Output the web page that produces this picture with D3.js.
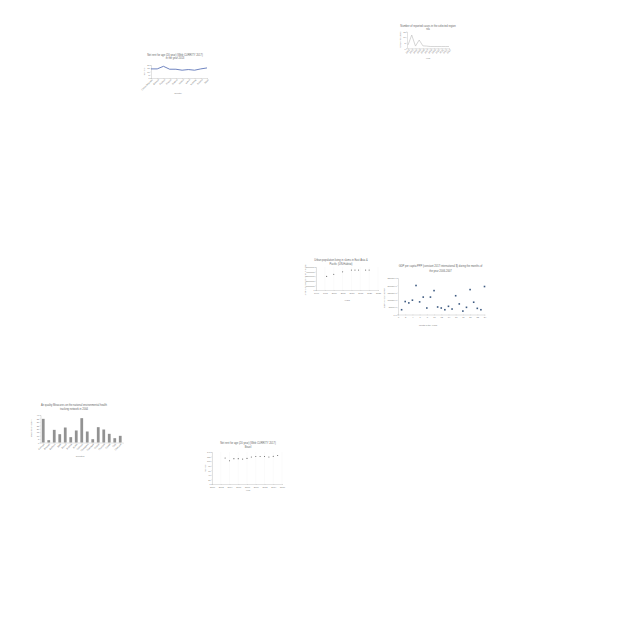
<!DOCTYPE html>
<html><head><meta charset="utf-8">
<script src="https://cdn.jsdelivr.net/npm/d3@7"></script>
<style>body{margin:0;background:#fff}svg{display:block}text{font-family:"Liberation Sans",Arial,sans-serif}</style>
</head><body><svg id="c" width="640" height="640"></svg>
<script>
// ---- Chart 1: line ----
const c1Countries = ["Czech Republic","Estonia","Finland","France","Greece","Ireland","Latvia","Norway","Poland","Spain"];
const c1Values = [14, 14, 18, 13.5, 13.5, 12, 13, 12, 14, 15.5];
const c1YTicks = [0, 5, 10, 15, 20];
// ---- Chart 2: line ----
const c2Years = ["2002","2003","2004","2005","2006","2007","2008","2009","2010","2011","2012","2013"];
const c2Values = [3, 12, 2, 7.5, 2.2, 2, 1.6, 1.6, 1.6, 1.6, 1.6, 1.6];
const c2YTicks = [0, 5, 10, 15];
// ---- Chart 3: scatter ----
const c3Years = [1996, 2000, 2005, 2010, 2012, 2014, 2018, 2020];
const c3Values = [2950000, 3400000, 3960000, 4340000, 4340000, 4340000, 4340000, 4340000];
const c3YTicks = [0, 1000000, 2000000, 3000000, 4000000, 5000000];
const c3XTicks = [1990, 1995, 2000, 2005, 2010, 2015, 2020, 2025];
// ---- Chart 4: scatter ----
const c4Months = [1,2,3,4,5,6,7,8,9,10,11,12,13,14,15,16,17,18,19,20,21,22,23,24];
const c4Values = [32700, 88800, 79400, 98100, 198600, 86400, 119200, 44400, 119200, 163600, 51400, 44400, 32700, 56100, 37400, 128500, 72400, 23400, 49100, 170600, 84100, 42100, 32700, 191600];
const c4YTicks = [0, 50000, 100000, 150000, 200000, 250000];
const c4XTicks = [0,2,4,6,8,10,12,14,16,18,20,22,24];
// ---- Chart 5: bars ----
const c5Counties = ["Autauga","Baldwin","Barbour","Bibb","Blount","Bullock","Butler","Calhoun","Chambers","Cherokee","Chilton","Choctaw","Clarke","Clay","Cleburne"];
const c5Values = [34.4, 3.4, 18.4, 12.1, 21.8, 7.8, 17.5, 35.4, 16, 4.8, 22.3, 18.9, 12.6, 6.3, 9.7];
const c5YTicks = [0, 5, 10, 15, 20, 25, 30, 35, 40];
// ---- Chart 6: scatter ----
const c6Years = [2003,2004,2005,2006,2007,2008,2009,2010,2011,2012,2013,2014,2015];
const c6Values = [114, 102, 111, 111, 109, 112, 118, 120, 120, 120, 118, 121, 125];
const c6YTicks = [0, 20, 40, 60, 80, 100, 120, 140];
const c6XTicks = [2000,2002,2004,2006,2008,2010,2012,2014,2016];

const svg = d3.select("#c");
const TXT = "#777", AX = "#aaa", FS = 2.2, TFS = 2.6;

function styleAxis(g){
  g.attr("font-size", FS).attr("font-family", null);
  g.selectAll("path.domain").attr("stroke", AX).attr("stroke-width", 0.35);
  g.selectAll(".tick line").attr("stroke", AX).attr("stroke-width", 0.3);
  g.selectAll(".tick text").attr("fill", TXT);
  return g;
}
function title(lines, cx, y0, dy){
  lines.forEach((t,i)=>svg.append("text").attr("x",cx).attr("y",y0+i*dy)
    .attr("text-anchor","middle").attr("font-size",TFS).attr("fill","#666").text(t));
}
function label(t, x, y, rot){
  const el = svg.append("text").attr("text-anchor","middle").attr("font-size",FS).attr("fill",TXT).text(t);
  if(rot) el.attr("transform",`translate(${x},${y}) rotate(-90)`); else el.attr("x",x).attr("y",y);
}
function rotXLabels(g){
  g.selectAll(".tick text").attr("text-anchor","end").attr("dx","-0.3").attr("dy","0.6")
    .attr("transform","rotate(-45)");
}

// Chart 1
{
  const x = d3.scalePoint(c1Countries, [151, 207]);
  const y = d3.scaleLinear([0, 20], [78, 65]);
  styleAxis(svg.append("g").attr("transform","translate(0,78)").call(d3.axisBottom(x).tickSize(0.8).tickPadding(1))).call(rotXLabels);
  styleAxis(svg.append("g").attr("transform","translate(151,0)").call(d3.axisLeft(y).tickValues(c1YTicks).tickSize(0.8).tickPadding(0.6)));
  svg.append("path").datum(c1Values).attr("fill","none").attr("stroke","#4a64b0").attr("stroke-width",0.8)
    .attr("d", d3.line((d,i)=>x(c1Countries[i]), d=>y(d)));
  title(["Net rent for age (20 year) (Web CURRITY 2017)","in the year 2013"], 175, 56, 3.4);
  label("Net rent", 144.5, 71.5, true);
  label("Country", 178, 93.5);
}
// Chart 2
{
  const x = d3.scalePoint(c2Years, [408, 449]);
  const y = d3.scaleLinear([0, 15], [48.3, 31.7]);
  styleAxis(svg.append("g").attr("transform","translate(0,48.3)").call(d3.axisBottom(x).tickSize(0.8).tickPadding(1))).call(rotXLabels);
  styleAxis(svg.append("g").attr("transform","translate(407,0)").call(d3.axisLeft(y).tickValues(c2YTicks).tickSize(0.8).tickPadding(0.6)));
  svg.append("path").datum(c2Values).attr("fill","none").attr("stroke","#bbb").attr("stroke-width",0.6)
    .attr("d", d3.line((d,i)=>x(c2Years[i]), d=>y(d)));
  title(["Number of reported cases in the selected region","n/a"], 428, 27, 3.2);
  label("Number of cases", 400.5, 40, true);
  label("Year", 428, 59);
}
// Chart 3
{
  const x = d3.scaleLinear([1990, 2025], [316, 378]);
  const y = d3.scaleLinear([0, 5000000], [290, 267]);
  svg.append("g").selectAll("line").data(c3XTicks).join("line")
    .attr("x1",d=>x(d)).attr("x2",d=>x(d)).attr("y1",267).attr("y2",290).attr("stroke","#f0f0f0").attr("stroke-width",0.3);
  styleAxis(svg.append("g").attr("transform","translate(0,290)").call(d3.axisBottom(x).tickValues(c3XTicks).tickFormat(d3.format("d")).tickSize(0.8).tickPadding(1.5)));
  styleAxis(svg.append("g").attr("transform","translate(316,0)").call(d3.axisLeft(y).tickValues(c3YTicks).tickFormat(d3.format("d")).tickSize(0.8).tickPadding(0.6)));
  svg.append("g").selectAll("circle").data(c3Values).join("circle")
    .attr("cx",(d,i)=>x(c3Years[i])).attr("cy",d=>y(d)).attr("r",0.6).attr("fill","#777");
  title(["Urban population living in slums in East Asia &","Pacific (UN-Habitat)"], 341, 261, 3.5);
  label("Urban population living in slums", 305.5, 280, true);
  label("Years", 347, 300.5);
}
// Chart 4
{
  const x = d3.scaleLinear([0, 24], [398, 484.5]);
  const y = d3.scaleLinear([0, 250000], [314.5, 278]);
  styleAxis(svg.append("g").attr("transform","translate(0,314.5)").call(d3.axisBottom(x).tickValues(c4XTicks).tickSize(0.8).tickPadding(1.5)));
  styleAxis(svg.append("g").attr("transform","translate(398,0)").call(d3.axisLeft(y).tickValues(c4YTicks).tickFormat(d3.format(".1f")).tickSize(0.8).tickPadding(0.6)));
  svg.append("g").selectAll("rect").data(c4Values).join("rect")
    .attr("x",(d,i)=>x(c4Months[i])-0.8).attr("y",d=>y(d)-0.8).attr("width",1.6).attr("height",1.6).attr("fill","#3d5a80");
  title(["GDP per capita PPP (constant 2017 international $) during the months of","the year 2006-2007"], 440.5, 267.3, 4.4);
  label("GDP per capita PPP", 384.5, 298, true);
  label("Month of the Years", 428, 326);
}
// Chart 5
{
  const x = d3.scaleBand(c5Counties, [40.5, 123]).paddingInner(0.5).paddingOuter(0.25);
  const y = d3.scaleLinear([0, 40], [442.5, 415]);
  svg.append("g").selectAll("rect").data(c5Values).join("rect")
    .attr("x",(d,i)=>x(c5Counties[i])).attr("y",d=>y(d)).attr("width",x.bandwidth()).attr("height",d=>y(0)-y(d)).attr("fill","#929292");
  styleAxis(svg.append("g").attr("transform","translate(0,442.5)").call(d3.axisBottom(x).tickSize(0.8).tickPadding(1))).call(rotXLabels);
  styleAxis(svg.append("g").attr("transform","translate(40.5,0)").call(d3.axisLeft(y).tickValues(c5YTicks).tickSize(0.8).tickPadding(0.6)));
  title(["Air quality Measures on the national environmental health","tracking network in 2004"], 74, 406, 4);
  label("Value of air quality", 32, 428, true);
  label("Counties", 80, 457);
}
// Chart 6
{
  const x = d3.scaleLinear([2000, 2016], [212, 282]);
  const y = d3.scaleLinear([0, 140], [484, 452]);
  svg.append("g").selectAll("line").data(c6XTicks).join("line")
    .attr("x1",d=>x(d)).attr("x2",d=>x(d)).attr("y1",452).attr("y2",484).attr("stroke","#f0f0f0").attr("stroke-width",0.3);
  styleAxis(svg.append("g").attr("transform","translate(0,484)").call(d3.axisBottom(x).tickValues(c6XTicks).tickFormat(d3.format("d")).tickSize(0.8).tickPadding(1.2)));
  styleAxis(svg.append("g").attr("transform","translate(212,0)").call(d3.axisLeft(y).tickValues(c6YTicks).tickSize(0.8).tickPadding(0.6)));
  svg.append("g").selectAll("circle").data(c6Values).join("circle")
    .attr("cx",(d,i)=>x(c6Years[i])).attr("cy",d=>y(d)).attr("r",0.55).attr("fill","#666");
  title(["Net rent for age (20 year) (Web CURRITY 2017)","Brazil"], 248, 443.8, 3.8);
  label("Net rent", 205.5, 468, true);
  label("Year", 248, 490.5);
}
</script></body></html>
